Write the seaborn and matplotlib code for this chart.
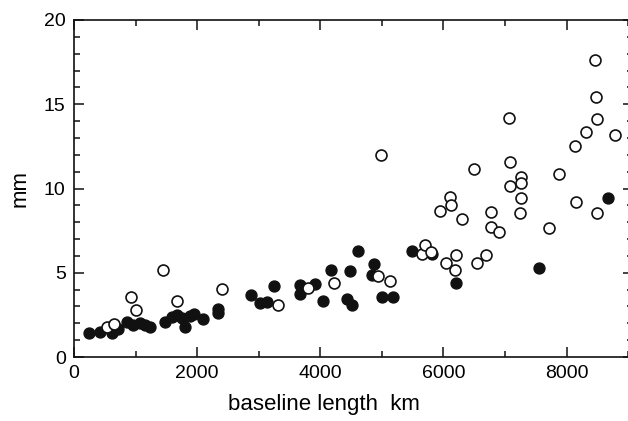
import matplotlib
matplotlib.use("Agg")
import matplotlib.pyplot as plt
from matplotlib.ticker import MultipleLocator
import pandas as pd
import seaborn as sns

# open circles (baseline km, mm)
open_km = [531, 655, 926, 1007, 1451, 1668, 2404, 3306, 3806, 4218, 4944, 5135,
           4982, 5648, 5702, 5794, 6043, 6189, 6200, 6541, 6690, 5946, 6108, 6119,
           6298, 6498, 6771, 6771, 6904, 7083, 7083, 7072, 7256, 7267, 7256, 7240,
           7722, 7881, 8144, 8147, 8463, 8480, 8491, 8317, 8788, 8501]
open_mm = [1.78, 1.97, 3.54, 2.79, 5.16, 3.3, 4.05, 3.09, 4.1, 4.41, 4.82, 4.51,
           11.99, 6.1, 6.65, 6.25, 5.6, 5.16, 6.03, 5.6, 6.05, 8.66, 9.51, 9.02,
           8.17, 11.14, 8.6, 7.73, 7.4, 11.59, 10.16, 14.2, 10.7, 10.31, 9.42, 8.57,
           7.65, 10.86, 12.55, 9.2, 17.63, 15.41, 14.1, 13.33, 13.17, 8.57]

# filled circles
fill_km = [244, 422, 612, 720, 856, 963, 1072, 1153, 1235, 1478, 1587, 1668, 1749,
           1803, 1884, 1949, 2101, 2340, 2340, 2867, 3021, 3130, 3249, 3671, 3671,
           3915, 4045, 4172, 4430, 4483, 4511, 4614, 4867, 4836, 4998, 5177, 5496,
           5810, 6200, 7551, 8669]
fill_mm = [1.44, 1.5, 1.44, 1.64, 2.1, 1.9, 2.0, 1.9, 1.8, 2.1, 2.35, 2.49, 2.3,
           1.8, 2.43, 2.55, 2.24, 2.59, 2.85, 3.66, 3.22, 3.28, 4.19, 3.72, 4.27,
           4.34, 3.34, 5.16, 3.42, 5.12, 3.09, 6.3, 5.54, 4.87, 3.54, 3.58, 6.31,
           6.1, 4.41, 5.31, 9.42]

sns.set_style("ticks")
plt.rcParams["font.family"] = ["Liberation Sans", "DejaVu Sans"]
plt.rcParams["text.color"] = "black"
plt.rcParams["axes.labelcolor"] = "black"
plt.rcParams["xtick.labelcolor"] = "black"
plt.rcParams["ytick.labelcolor"] = "black"

fig = plt.figure(figsize=(6.28, 4.21), dpi=100)
ax = fig.add_axes([74 / 628, 64 / 421, 559 / 628, 337 / 421])

filled = pd.DataFrame({"km": fill_km, "mm": fill_mm})
hollow = pd.DataFrame({"km": open_km, "mm": open_mm})
sns.scatterplot(data=filled, x="km", y="mm", ax=ax, s=62, color="#111111",
                edgecolor="#111111", linewidth=1.0, zorder=3)
sns.scatterplot(data=hollow, x="km", y="mm", ax=ax, s=62, facecolor="white",
                edgecolor="#111111", linewidth=1.2, zorder=4)

ax.set_xlim(0, 9080)
ax.set_ylim(0, 20)
ax.xaxis.set_major_locator(MultipleLocator(2000))
ax.xaxis.set_minor_locator(MultipleLocator(1000))
ax.yaxis.set_major_locator(MultipleLocator(5))
ax.yaxis.set_minor_locator(MultipleLocator(1))
ax.tick_params(which="both", direction="in", top=True, right=True,
               width=1.1, color="#111111")
ax.tick_params(which="major", length=7, labelsize=14, pad=6)
ax.tick_params(which="minor", length=4)
for sp in ax.spines.values():
    sp.set_linewidth(1.2)
    sp.set_color("#111111")

ax.set_xlabel("baseline length  km", fontsize=16)
ax.set_ylabel("mm", fontsize=16)
ax.xaxis.set_label_coords(0.447, -0.11)
ax.yaxis.set_label_coords(-0.078, 0.5)

fig.savefig("out.png", dpi=100)
